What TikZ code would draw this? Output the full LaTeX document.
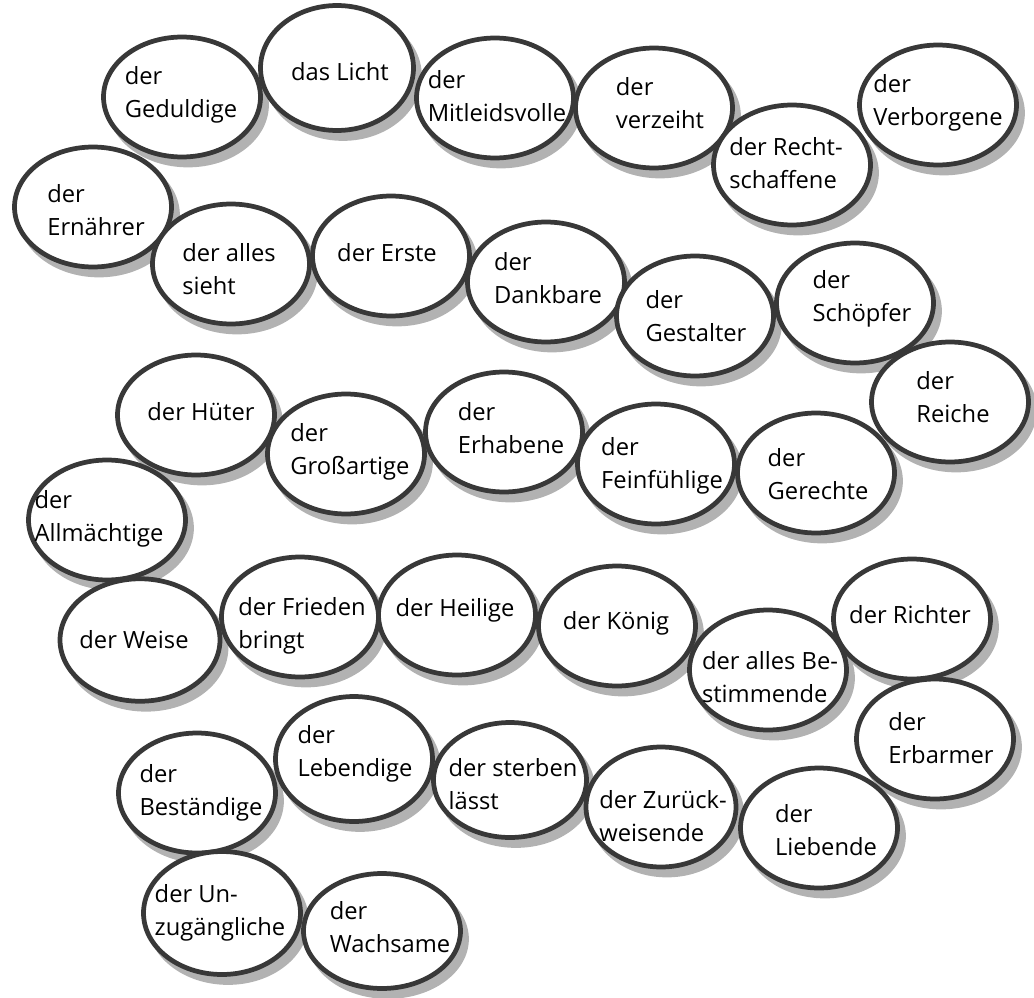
\documentclass[tikz,border=0pt]{standalone}
\usepackage{fontspec}
\setmainfont{Open Sans}
\usetikzlibrary{shapes.geometric,calc,backgrounds}

\begin{document}
\begin{tikzpicture}[
    x=0.02cm, y=-0.02cm,
    bubble/.style={ellipse, draw=black!78, fill=white, line width=2.7pt, inner sep=0pt,
        minimum width=3.14cm, minimum height=2.4cm},
    backshade/.style={fill=black!30},
    word/.style={align=left, inner sep=0pt, font=\fontsize{13.5}{18.8}\selectfont}
]
\useasboundingbox (0,0) rectangle (1034,997);

% Row 1
\node[bubble] (B1) at (182,97) {};
\node[bubble, minimum width=3.06cm, minimum height=2.5cm] (B2) at (337,68) {};
\node[bubble] (B3) at (495,98) {};
\node[bubble] (B4) at (654,108) {};
\node[bubble] (B5) at (792,165) {};
\node[bubble] (B6) at (938,105) {};

% Row 2
\node[bubble] (B7) at (93,207) {};
\node[bubble] (B8) at (231,264) {};
\node[bubble] (B9) at (391,256) {};
\node[bubble] (B10) at (546,282) {};
\node[bubble] (B11) at (695,316) {};
\node[bubble] (B12) at (855,303) {};

% Row 3
\node[bubble] (B13) at (950,402) {};
\node[bubble] (B14) at (196,415) {};
\node[bubble] (B15) at (346,454) {};
\node[bubble] (B16) at (504,432) {};
\node[bubble] (B17) at (656,464) {};
\node[bubble] (B18) at (816,473) {};
\node[bubble] (B19) at (107,520) {};

% Row 4
\node[bubble] (B21) at (300,617) {};
\node[bubble] (B22) at (457,615) {};
\node[bubble] (B23) at (617,626) {};
\node[bubble] (B25) at (912,619) {};
\node[bubble, minimum width=3.2cm, minimum height=2.45cm] (B20) at (140,640) {};
\node[bubble] (B24) at (768,670) {};

% Row 5
\node[bubble] (B26) at (935,739) {};
\node[bubble, minimum height=2.5cm] (B28) at (354,759) {};
\node[bubble, minimum width=3.06cm, minimum height=2.3cm] (B29) at (510,780) {};
\node[bubble] (B27) at (197,793) {};
\node[bubble, minimum width=3.0cm] (B30) at (661,807) {};
\node[bubble] (B31) at (819,828) {};

% Row 6
\node[bubble, minimum height=2.46cm] (B32) at (222,913) {};
\node[bubble, minimum height=2.3cm] (B33) at (382,931) {};

% Shadows behind all bubbles
\begin{pgfonlayer}{background}
\foreach \i in {1,...,33}
    \fill[backshade] let \p0=(B\i.center), \p1=(B\i.east), \p2=(B\i.north) in
        ($(\p0)+(6,8)$) ellipse [x radius=\x1-\x0, y radius=\y2-\y0];
\end{pgfonlayer}

% Names
\node[word] (T1) at (181,95) {der\\Geduldige};
\node[word] (T2) at (340,72) {das Licht};
\node[word] (T3) at (497,96) {der\\Mitleidsvolle};
\node[word] (T4) at (660,103) {der\\verzeiht};
\node[word] (T5) at (786,163) {der Recht-\\schaffene};
\node[word] (T6) at (938,103) {der\\Verborgene};
\node[word] (T7) at (96,210) {der\\Ernährer};
\node[word] (T8) at (229,269) {der alles\\sieht};
\node[word] (T9) at (387,253) {der Erste};
\node[word] (T10) at (548,278) {der\\Dankbare};
\node[word] (T11) at (696,316) {der\\Gestalter};
\node[word] (T12) at (862,299) {der\\Schöpfer};
\node[word] (T13) at (953,397) {der\\Reiche};
\node[word] (T14) at (201,412) {der Hüter};
\node[word] (T15) at (350,452) {der\\Großartige};
\node[word] (T16) at (511,428) {der\\Erhabene};
\node[word] (T17) at (662,466) {der\\Feinfühlige};
\node[word] (T18) at (818,474) {der\\Gerechte};
\node[word] (T19) at (99,519) {der\\Allmächtige};
\node[word] (T20) at (134,640) {der Weise};
\node[word] (T21) at (302,626) {der Frieden\\bringt};
\node[word] (T22) at (455,610) {der Heilige};
\node[word] (T23) at (616,623) {der König};
\node[word] (T24) at (770,677) {der alles Be-\\stimmende};
\node[word] (T25) at (910,615) {der Richter};
\node[word] (T26) at (941,738) {der\\Erbarmer};
\node[word] (T27) at (201,793) {der\\Beständige};
\node[word] (T28) at (355,754) {der\\Lebendige};
\node[word] (T29) at (513,784) {der sterben\\lässt};
\node[word] (T30) at (663,816) {der Zurück-\\weisende};
\node[word] (T31) at (826,830) {der\\Liebende};
\node[word] (T32) at (220,913) {der Un-\\zugängliche};
\node[word] (T33) at (390,927) {der\\Wachsame};

\end{tikzpicture}
\end{document}
